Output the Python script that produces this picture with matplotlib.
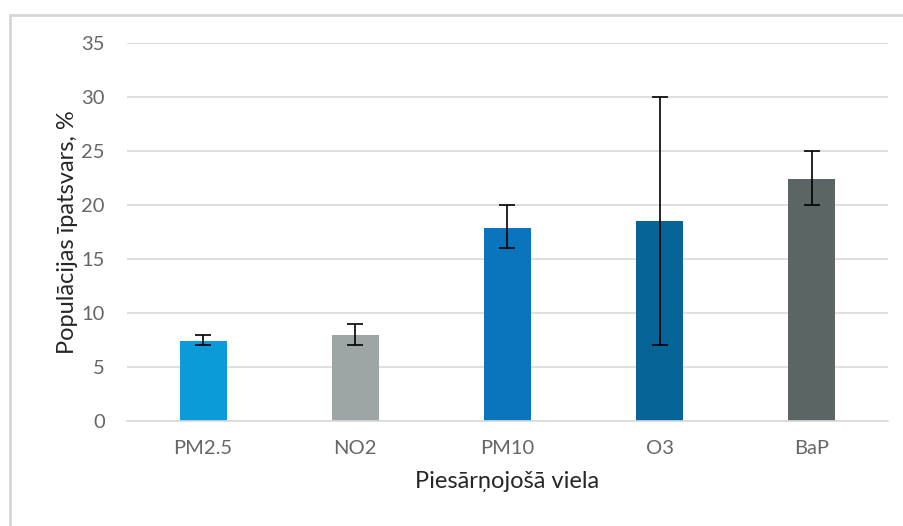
import matplotlib
matplotlib.use("Agg")
import matplotlib.pyplot as plt
from matplotlib.patches import Rectangle

categories = ["PM2.5", "NO2", "PM10", "O3", "BaP"]
values = [7.4, 8.0, 17.9, 18.5, 22.4]
err_low = [7.0, 7.0, 16.0, 7.0, 20.0]
err_high = [8.0, 9.0, 20.0, 30.0, 25.0]
colors = ["#0B9BD9", "#9EA5A6", "#0A75BD", "#066596", "#5B6566"]

plt.rcParams['font.family'] = ['Lato', 'DejaVu Sans']

fig = plt.figure(figsize=(9.04, 5.26), dpi=100)
fig.patches.append(Rectangle((10/904, -0.1), 1.2, 1 - 15/526 + 0.1,
                             transform=fig.transFigure, fill=False,
                             edgecolor="#D6D6D6", linewidth=2, zorder=0))
ax = fig.add_axes([127/904, 1 - 421/526, 761/904, 378/526])

x = list(range(len(categories)))
yerr = [[v - lo for v, lo in zip(values, err_low)],
        [hi - v for v, hi in zip(values, err_high)]]
ax.bar(x, values, width=0.31, color=colors, zorder=2)
ax.errorbar(x, values, yerr=yerr, fmt='none', ecolor='black', elinewidth=1.2,
            capsize=6, capthick=1.2, zorder=3)

ax.set_xlim(-0.5, len(categories) - 0.5)
ax.set_ylim(0, 35)
ax.set_yticks(range(0, 36, 5))
ax.set_xticks(x)
ax.set_xticklabels(categories)
ax.yaxis.grid(True, color="#D9D9D9", linewidth=1.2, zorder=0)
ax.set_axisbelow(True)
for s in ["top", "right", "left"]:
    ax.spines[s].set_visible(False)
ax.spines["bottom"].set_color("#D9D9D9")
ax.spines["bottom"].set_linewidth(1.2)
ax.tick_params(axis='both', length=0, labelsize=14.5, colors="#666666")
ax.tick_params(axis='y', pad=16)
ax.tick_params(axis='x', pad=14)
ax.set_ylabel("Populācijas īpatsvars, %", fontsize=17, color="#262626", labelpad=2)
ax.set_xlabel("Piesārņojošā viela", fontsize=17, color="#262626", labelpad=10)

fig.savefig("out.png", dpi=100)
